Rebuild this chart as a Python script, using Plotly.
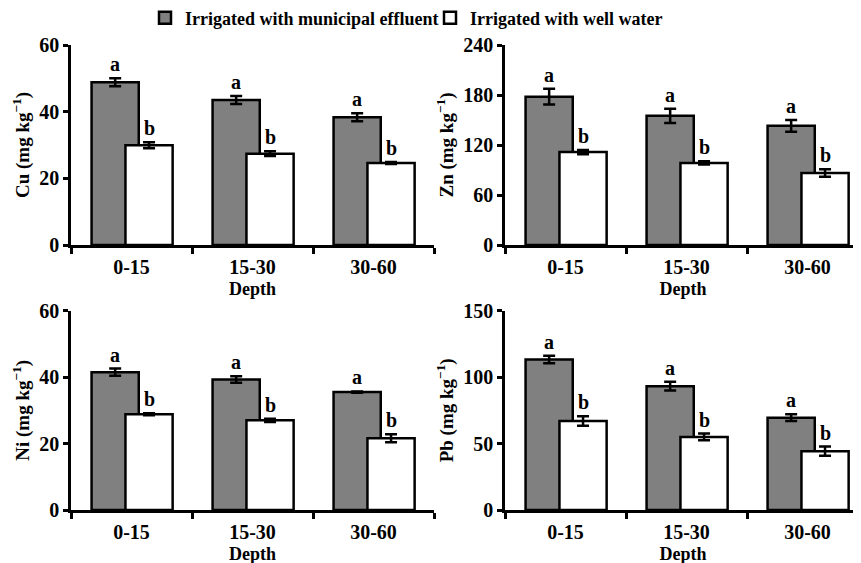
import plotly.graph_objects as go

# ---------------- data ----------------
depths = ["0-15", "15-30", "30-60"]

cu_effluent = [48.8, 43.5, 38.3]
cu_effluent_se = [1.2, 1.2, 1.2]
cu_well = [29.9, 27.4, 24.6]
cu_well_se = [0.9, 0.7, 0.3]

zn_effluent = [178.0, 155.0, 143.0]
zn_effluent_se = [9.5, 8.5, 7.0]
zn_well = [111.5, 98.5, 86.5]
zn_well_se = [2.5, 2.0, 4.5]

ni_effluent = [41.5, 39.3, 35.5]
ni_effluent_se = [1.1, 1.0, 0.2]
ni_well = [28.8, 27.0, 21.6]
ni_well_se = [0.3, 0.5, 1.2]

pb_effluent = [113.3, 93.2, 69.5]
pb_effluent_se = [2.8, 3.3, 2.5]
pb_well = [67.0, 55.0, 44.3]
pb_well_se = [3.6, 2.5, 3.4]

letters_effluent = ["a", "a", "a"]
letters_well = ["b", "b", "b"]

series_names = ["Irrigated with municipal effluent", "Irrigated with well water"]
panel_titles = ["Cu (mg kg<sup>\u22121</sup>)", "Zn (mg kg<sup>\u22121</sup>)",
                "Ni (mg kg<sup>\u22121</sup>)", "Pb (mg kg<sup>\u22121</sup>)"]
panel_ymax = [60, 240, 60, 150]
panel_dtick = [20, 60, 20, 50]

# ---------------- layout constants ----------------
W, H = 861, 563
PAGE_OFF = 8          # page body margin shifts the figure by this many px
FONT = "Liberation Serif"
GRAY = "rgb(128,128,128)"
LW = 2.5

BAR_W = 0.39
OFF_EFF = -0.33
OFF_WELL = -0.05

# pixel geometry of the panels (in the final picture)
left_x = (71, 434)
right_x = (505, 861)
top_y = (45, 245)
bot_y = (310.7, 510)
CAT_PX = (434 - 71) / 3.0


def xdom(px):
    return [(px[0] - PAGE_OFF) / W, (px[1] - PAGE_OFF) / W]


def ydom(py):
    return [1 - (py[1] - PAGE_OFF) / H, 1 - (py[0] - PAGE_OFF) / H]


def tfont(size):
    return dict(family=FONT, size=size, color="black", weight="bold")


panels = [
    (cu_effluent, cu_effluent_se, cu_well, cu_well_se, left_x, top_y),
    (zn_effluent, zn_effluent_se, zn_well, zn_well_se, right_x, top_y),
    (ni_effluent, ni_effluent_se, ni_well, ni_well_se, left_x, bot_y),
    (pb_effluent, pb_effluent_se, pb_well, pb_well_se, right_x, bot_y),
]

fig = go.Figure()
annotations = []
layout_axes = {}

for i, (eff, eff_se, well, well_se, px, py) in enumerate(panels):
    n = "" if i == 0 else str(i + 1)
    xa, ya = "x" + n, "y" + n
    show = i == 0
    fig.add_trace(go.Bar(
        x=depths, y=eff, name=series_names[0], legendgroup="eff", showlegend=show,
        xaxis=xa, yaxis=ya, width=BAR_W, offset=OFF_EFF,
        marker=dict(color=GRAY, line=dict(color="black", width=LW)),
        error_y=dict(type="data", array=eff_se, color="black", thickness=LW, width=6),
    ))
    fig.add_trace(go.Bar(
        x=depths, y=well, name=series_names[1], legendgroup="well", showlegend=show,
        xaxis=xa, yaxis=ya, width=BAR_W, offset=OFF_WELL,
        marker=dict(color="white", line=dict(color="black", width=LW)),
        error_y=dict(type="data", array=well_se, color="black", thickness=LW, width=6),
    ))
    for j in range(len(depths)):
        for vals, ses, lets, off in ((eff, eff_se, letters_effluent, OFF_EFF),
                                     (well, well_se, letters_well, OFF_WELL)):
            annotations.append(dict(
                x=j + off + BAR_W / 2, y=vals[j] + ses[j], xref=xa, yref=ya,
                text=lets[j], showarrow=False, yanchor="middle", yshift=14,
                font=tfont(20),
            ))

    xrange_end = -0.5 + (px[1] - px[0]) / CAT_PX
    layout_axes["xaxis" + n] = dict(
        domain=xdom(px), anchor=ya, type="category", range=[-0.5, xrange_end],
        showline=True, linewidth=LW, linecolor="black", ticks="outside",
        tickson="boundaries", ticklen=6, tickwidth=LW, tickcolor="black",
        showgrid=False, zeroline=False, automargin=False,
        tickfont=tfont(20), ticklabelstandoff=2,
        title=dict(text="Depth", font=tfont(18), standoff=6),
    )
    layout_axes["yaxis" + n] = dict(
        domain=ydom(py), anchor=xa, range=[0, panel_ymax[i]], dtick=panel_dtick[i],
        showline=True, linewidth=LW, linecolor="black", ticks="outside",
        ticklen=5, tickwidth=LW, tickcolor="black", showgrid=False, zeroline=False,
        automargin=False,
        tickfont=tfont(20),
        title=dict(text=panel_titles[i], font=tfont(19), standoff=5),
    )

fig.update_layout(
    width=W, height=H, margin=dict(l=0, r=0, t=0, b=0, autoexpand=False),
    barmode="overlay", plot_bgcolor="white", paper_bgcolor="white",
    font=tfont(18),
    legend=dict(orientation="h", x=(145 - PAGE_OFF) / W, xanchor="left",
                y=1 - (18 - PAGE_OFF) / H, yanchor="middle",
                font=tfont(18), itemwidth=30, entrywidth=240, entrywidthmode="pixels",
                bgcolor="rgba(0,0,0,0)", traceorder="normal"),
    annotations=annotations,
    **layout_axes,
)

fig.write_html("out.html")
